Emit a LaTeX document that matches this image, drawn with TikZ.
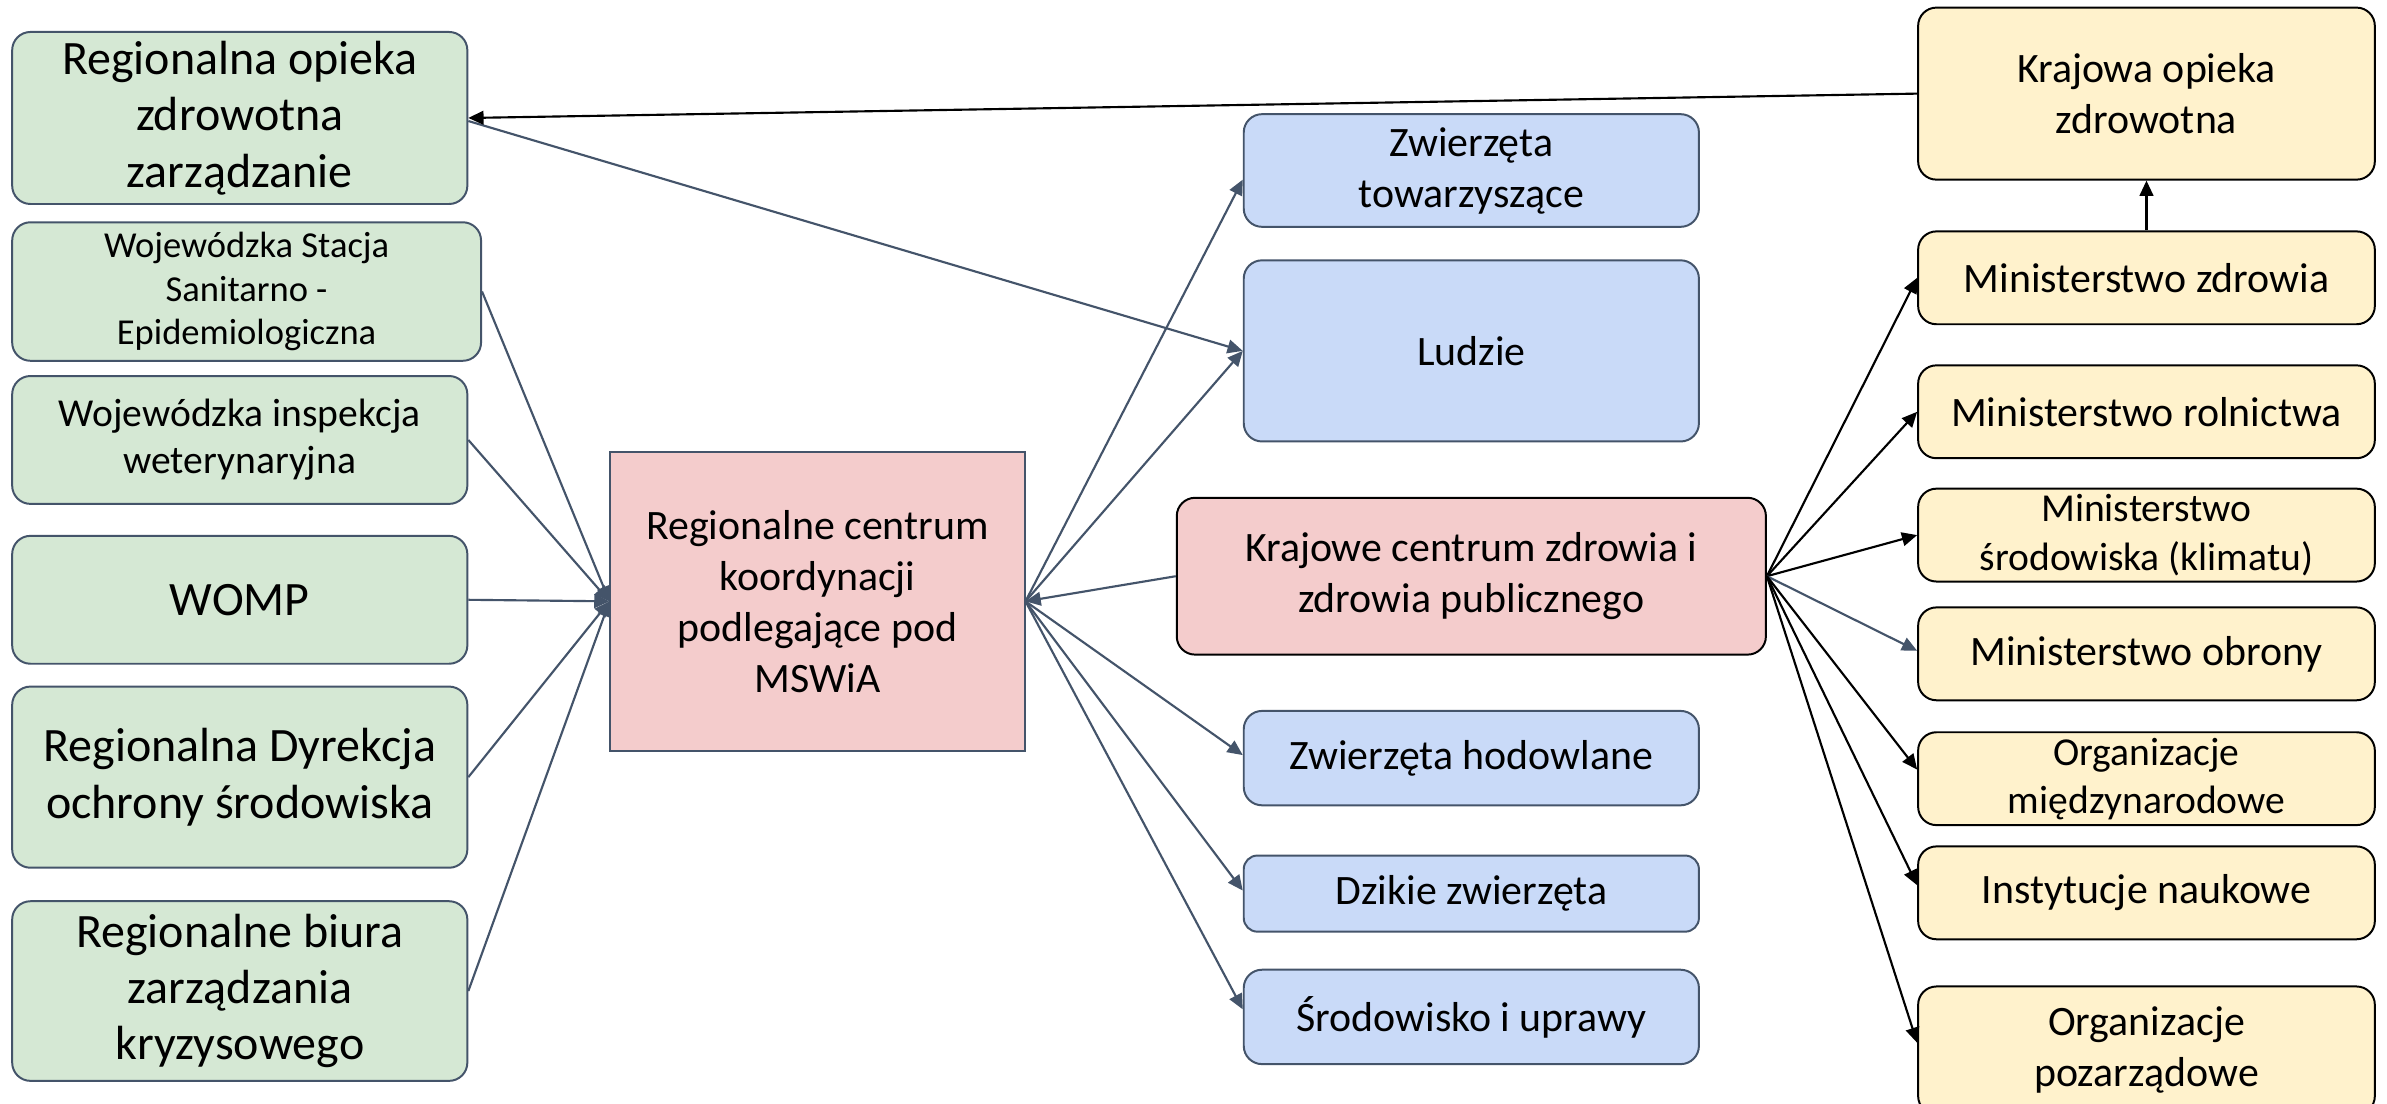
\documentclass[tikz,border=0pt]{standalone}
\usepackage{fontspec}
\setmainfont{Carlito}
\usetikzlibrary{arrows.meta,calc}
\definecolor{slate}{HTML}{44546A}
\definecolor{gfill}{HTML}{D5E8D4}
\definecolor{pfill}{HTML}{F4CCCC}
\definecolor{bfill}{HTML}{C9DAF8}
\definecolor{yfill}{HTML}{FFF2CC}
\begin{document}
\begin{tikzpicture}[x=1pt,y=-1pt,
  box/.style={rectangle,rounded corners=12pt,line width=1.3pt,align=center,inner sep=0pt,text=black},
  gbox/.style={box,draw=slate,fill=gfill,minimum width=299pt},
  bbox/.style={box,draw=slate,fill=bfill,minimum width=299pt},
  ybox/.style={box,draw=black,fill=yfill,minimum width=300pt},
  big/.style={font=\fontsize{31.5}{37}\selectfont},
  med/.style={font=\fontsize{27.5}{33.5}\selectfont},
  con/.style={line width=1.4pt,-{Triangle[length=10pt,width=9pt]}},
  scon/.style={con,draw=slate,fill=slate},
  kcon/.style={con,draw=black,fill=black},
]
\clip (0,0) rectangle (1568,725);
\fill[white] (0,0) rectangle (1568,725);

% left column
\node[gbox,big,minimum height=113pt] (g1) at (157.5,77.5) {Regionalna opieka\\zdrowotna\\zarządzanie};
\node[gbox,minimum width=308pt,minimum height=91pt,font=\fontsize{24}{28.5}\selectfont] (g2) at (162,191.5) {Wojewódzka Stacja\\Sanitarno -\\Epidemiologiczna};
\node[gbox,minimum height=84pt,font=\fontsize{26}{30.7}\selectfont] (g3) at (157.5,289) {Wojewódzka inspekcja\\weterynaryjna};
\node[gbox,big,minimum height=84pt] (g4) at (157.5,394) {WOMP};
\node[gbox,big,minimum height=119pt] (g5) at (157.5,510.5) {Regionalna Dyrekcja\\ochrony środowiska};
\node[gbox,big,minimum height=118pt] (g6) at (157.5,651) {Regionalne biura\\zarządzania\\kryzysowego};

% regional centre
\node[box,rounded corners=0pt,draw=slate,fill=pfill,med,minimum width=272pt,minimum height=196pt] (rck) at (537,395) {Regionalne centrum\\koordynacji\\podlegające pod\\MSWiA};

% blue column
\node[bbox,med,minimum height=74pt] (b1) at (966.5,112) {Zwierzęta\\towarzyszące};
\node[bbox,med,minimum height=119pt] (b2) at (966.5,230.5) {Ludzie};
\node[bbox,med,minimum height=62pt] (b3) at (966.5,498) {Zwierzęta hodowlane};
\node[bbox,med,minimum height=50pt,rounded corners=9pt] (b4) at (966.5,587) {Dzikie zwierzęta};
\node[bbox,med,minimum height=62pt] (b5) at (966.5,668) {Środowisko i uprawy};

% national centre
\node[box,draw=black,fill=pfill,med,minimum width=387pt,minimum height=103pt] (kc) at (966.5,378.5) {Krajowe centrum zdrowia i\\zdrowia publicznego};

% right column
\node[ybox,med,minimum height=113pt] (y1) at (1410,61.5) {Krajowa opieka\\zdrowotna};
\node[ybox,med,minimum height=61pt] (y2) at (1410,182.5) {Ministerstwo zdrowia};
\node[ybox,med,minimum height=61pt] (y3) at (1410,270.5) {Ministerstwo rolnictwa};
\node[ybox,minimum height=61pt,font=\fontsize{26}{31.8}\selectfont] (y4) at (1410,351.5) {Ministerstwo\\środowiska (klimatu)};
\node[ybox,med,minimum height=61pt] (y5) at (1410,429.5) {Ministerstwo obrony};
\node[ybox,minimum height=61pt,font=\fontsize{26}{31.5}\selectfont] (y6) at (1410,511.5) {Organizacje\\międzynarodowe};
\node[ybox,med,minimum height=61pt] (y7) at (1410,586.5) {Instytucje naukowe};
\node[ybox,med,minimum height=84pt] (y8) at (1410,690) {Organizacje\\pozarządowe};

% connectors: left column to regional centre
\draw[scon] (g2.east) -- (rck.west);
\draw[scon] (g3.east) -- (rck.west);
\draw[scon] (g4.east) -- (rck.west);
\draw[scon] (g5.east) -- (rck.west);
\draw[scon] (g6.east) -- (rck.west);

% regional centre to blue column
\draw[scon] (rck.east) -- ($(b1.west)+(0,6)$);
\draw[scon] (rck.east) -- (b2.west);
\draw[scon] (rck.east) -- ($(b3.west)+(0,-2)$);
\draw[scon] (rck.east) -- ($(b4.west)+(0,-2)$);
\draw[scon] (rck.east) -- ($(b5.west)+(0,-5)$);
\draw[scon] ($(g1.east)+(0,2)$) -- (b2.west);

% national centre to regional centre
\draw[scon] (kc.west) -- (rck.east);

% national centre to right column
\draw[kcon] (kc.east) -- (y2.west);
\draw[kcon] (kc.east) -- (y3.west);
\draw[kcon] (kc.east) -- (y4.west);
\draw[scon] (kc.east) -- ($(y5.west)+(0,-2)$);
\draw[kcon] (kc.east) -- ($(y6.west)+(0,-6)$);
\draw[kcon] (kc.east) -- ($(y7.west)+(0,-5)$);
\draw[kcon] (kc.east) -- ($(y8.west)+(0,-5)$);

% upward links
\draw[kcon] (y2.north) -- (y1.south);
\draw[kcon] (y1.west) -- (g1.east);
\end{tikzpicture}
\end{document}
